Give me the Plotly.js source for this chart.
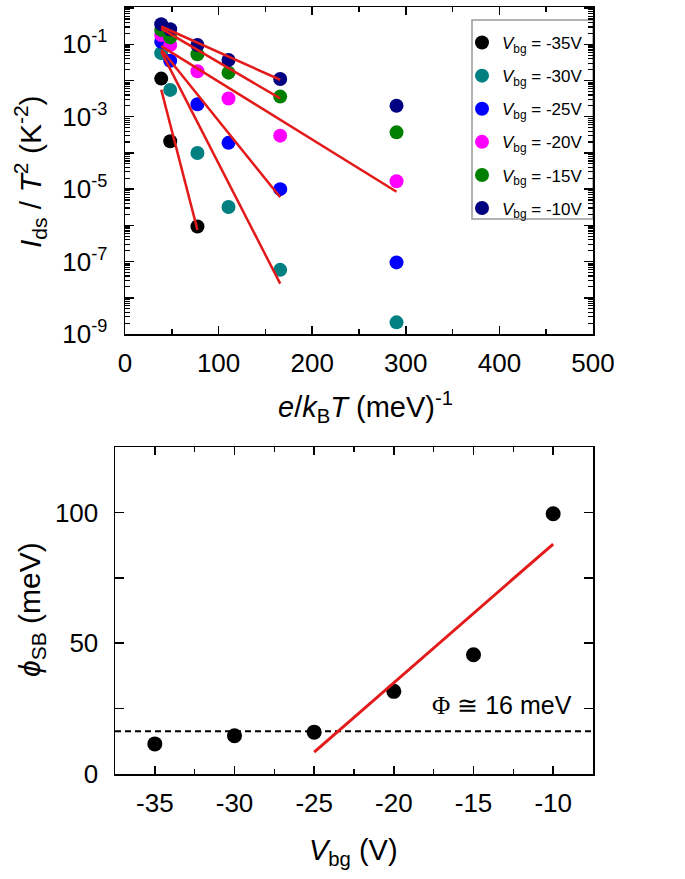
<!DOCTYPE html>
<html>
<head>
<meta charset="utf-8">
<script src="https://cdn.plot.ly/plotly-3.0.1.min.js"></script>
<style>html,body{margin:0;padding:0;background:#fff;}#chart{width:685px;height:879px;}</style>
</head>
<body>
<div id="chart"></div>
<script>
// ---- Top panel: Ids/T^2 vs e/kBT ----
const labels = ["-35V", "-30V", "-25V", "-20V", "-15V", "-10V"];
const colors = ["#000000", "#008080", "#0000ff", "#ff00ff", "#008000", "#000080"];
const invT = [38.7, 48.3, 77.4, 110.6, 165.8, 290.1];
const ids35 = [1.13e-2, 2.1e-4, 9.3e-7];
const ids30 = [0.057, 5.5e-3, 1.0e-4, 3.2e-6, 5.9e-8, 2.1e-9];
const ids25 = [0.118, 0.035, 2.2e-3, 1.9e-4, 1.0e-5, 9.5e-8];
const ids20 = [0.18, 0.096, 0.018, 3.2e-3, 3.0e-4, 1.66e-5];
const ids15 = [0.25, 0.155, 0.053, 0.0165, 3.6e-3, 3.7e-4];
const ids10 = [0.36, 0.26, 0.096, 0.037, 0.011, 2.0e-3];
// fit lines (start/end)
const fitX35 = [38.7, 77.4],  fitY35 = [5.6e-3, 7.5e-7];
const fitX30 = [38.7, 165.8], fitY30 = [0.063, 2.45e-8];
const fitX25 = [38.7, 165.8], fitY25 = [0.072, 6.0e-6];
const fitX20 = [38.7, 290.1], fitY20 = [0.089, 8.5e-6];
const fitX15 = [38.7, 165.8], fitY15 = [0.27, 3.2e-3];
const fitX10 = [38.7, 165.8], fitY10 = [0.31, 0.0105];

// ---- Bottom panel: phi_SB vs Vbg ----
const vbg = [-35, -30, -25, -20, -15, -10];
const phiSB = [11.5, 14.6, 16.0, 31.6, 45.6, 99.5];
const phiFitX = [-25, -10], phiFitY = [8.4, 87.9];
const flatX = [-37.5, -7.5], flatY = [16.3, 16.3];
const vbgTickText = ["-35", "-30", "-25", "-20", "-15", "-10"];

const topSeries = [ids35, ids30, ids25, ids20, ids15, ids10];
const fitXs = [fitX35, fitX30, fitX25, fitX20, fitX15, fitX10];
const fitYs = [fitY35, fitY30, fitY25, fitY20, fitY15, fitY10];

const FONT = "Liberation Sans, Arial, Helvetica, sans-serif";
const RED = "#e31a1a";
const traces = [];
topSeries.forEach((ys, i) => {
  traces.push({
    x: invT.slice(0, ys.length), y: ys, type: "scatter", mode: "markers",
    xaxis: "x", yaxis: "y", legendgroup: "g" + i,
    name: "<i>V</i><sub>bg</sub> = " + labels[i],
    marker: {color: colors[i], size: 14, line: {width: 0}}
  });
});
fitXs.forEach((xs, i) => {
  traces.push({
    x: xs, y: fitYs[i], type: "scatter", mode: "lines", xaxis: "x", yaxis: "y",
    showlegend: false, line: {color: RED, width: 2.5}
  });
});
traces.push({x: flatX, y: flatY, type: "scatter", mode: "lines", xaxis: "x2", yaxis: "y2",
  showlegend: false, line: {color: "#000", width: 2, dash: "6px,4px"}});
traces.push({x: vbg, y: phiSB, type: "scatter", mode: "markers", xaxis: "x2", yaxis: "y2",
  showlegend: false, marker: {color: "#000", size: 15, line: {width: 0}}});
traces.push({x: phiFitX, y: phiFitY, type: "scatter", mode: "lines", xaxis: "x2", yaxis: "y2",
  showlegend: false, line: {color: RED, width: 3}});

// log tick positions
const decVals = [], decText = [], minorVals = [];
for (let e = -9; e <= 0; e++) {
  decVals.push(Math.pow(10, e));
  decText.push((e % 2 !== 0) ? ("10<sup>" + e + "</sup>") : "");
  for (let k = 2; k <= 9; k++) minorVals.push(k * Math.pow(10, e));
}

const W = 685, H = 879;
const TICKSIZE = 26, XTITLESIZE = 29, YTITLESIZE = 30;
const axCommon = {
  showline: true, linecolor: "#000", linewidth: 1.5, mirror: "allticks",
  ticks: "inside", tickcolor: "#000", tickwidth: 1.5, showgrid: false, zeroline: false,
  tickfont: {family: FONT, size: TICKSIZE, color: "#000"}
};

const layout = {
  width: W, height: H, margin: {l: 0, r: 0, t: 0, b: 0},
  paper_bgcolor: "#fff", plot_bgcolor: "#fff", showlegend: true,
  font: {family: FONT, color: "#000"},
  xaxis: Object.assign({}, axCommon, {
    domain: [125 / W, 593 / W], anchor: "y", range: [0, 500],
    tickmode: "array", tickvals: [0, 100, 200, 300, 400, 500], ticklen: 8, ticklabelstandoff: 5,
    minor: {ticks: "inside", ticklen: 5, tickwidth: 1.5, tickcolor: "#000", dtick: 50, tick0: 0}
  }),
  yaxis: Object.assign({}, axCommon, {
    type: "log", domain: [1 - 334 / H, 1 - 7 / H], anchor: "x", range: [-9, 0.03],
    tickmode: "array", tickvals: decVals, ticktext: decText, ticklen: 9, ticklabelstandoff: 11,
    minor: {ticks: "inside", ticklen: 5, tickwidth: 1.2, tickcolor: "#000", tickmode: "array", tickvals: minorVals}
  }),
  xaxis2: Object.assign({}, axCommon, {
    domain: [115 / W, 593 / W], anchor: "y2", range: [-37.5, -7.5],
    tickmode: "array", tickvals: vbg, ticktext: vbgTickText, ticklen: 8, ticklabelstandoff: 5,
    minor: {ticks: "inside", ticklen: 5, tickwidth: 1.5, tickcolor: "#000", dtick: 2.5, tick0: -37.5}
  }),
  yaxis2: Object.assign({}, axCommon, {
    domain: [1 - 774 / H, 1 - 447 / H], anchor: "x2", range: [0, 125],
    tickmode: "array", tickvals: [0, 25, 50, 75, 100], ticktext: ["0", "", "50", "", "100"],
    ticklen: 9, ticklabelstandoff: 10
  }),
  legend: {
    x: 462 / W, y: 1 - 25 / H, xanchor: "left", yanchor: "top",
    bgcolor: "rgba(0,0,0,0)", borderwidth: 0, tracegroupgap: 8,
    font: {family: FONT, size: 17, color: "#000"}
  },
  shapes: [
    {type: "rect", xref: "paper", yref: "paper", layer: "below",
     x0: 472 / W, x1: 593 / W, y0: 1 - 219 / H, y1: 1 - 20 / H,
     line: {color: "#999", width: 1.5}, fillcolor: "#fff"}
  ],
  annotations: [
    {xref: "paper", yref: "paper", x: 366 / W, y: 1 - 407 / H, xanchor: "center", yanchor: "middle",
     showarrow: false, font: {family: FONT, size: XTITLESIZE, color: "#000"},
     text: "<i>e</i>/<i>k</i><sub>B</sub><i>T</i> (meV)<sup>-1</sup>"},
    {xref: "paper", yref: "paper", x: 30 / W, y: 1 - 172 / H, xanchor: "center", yanchor: "middle",
     showarrow: false, textangle: -90, font: {family: FONT, size: YTITLESIZE, color: "#000"},
     text: "<i>I</i><sub>ds</sub> / <i>T</i><sup>2</sup> (K<sup>-2</sup>)"},
    {xref: "paper", yref: "paper", x: 353.5 / W, y: 1 - 852 / H, xanchor: "center", yanchor: "middle",
     showarrow: false, font: {family: FONT, size: XTITLESIZE, color: "#000"},
     text: "<i>V</i><sub>bg</sub> (V)"},
    {xref: "paper", yref: "paper", x: 31 / W, y: 1 - 610 / H, xanchor: "center", yanchor: "middle",
     showarrow: false, textangle: -90, font: {family: FONT, size: YTITLESIZE, color: "#000"},
     text: "<i>ϕ</i><sub>SB</sub> (meV)"},
    {xref: "x2", yref: "y2", x: -13.2, y: 26.5, xanchor: "center", yanchor: "middle",
     showarrow: false, font: {family: FONT, size: 25, color: "#000"},
     text: "<span style='font-family:Liberation Serif, Times New Roman, serif'>Φ</span> ≅ 16 meV"}
  ]
};

Plotly.newPlot("chart", traces, layout, {displayModeBar: false, staticPlot: true});
</script>
</body>
</html>
